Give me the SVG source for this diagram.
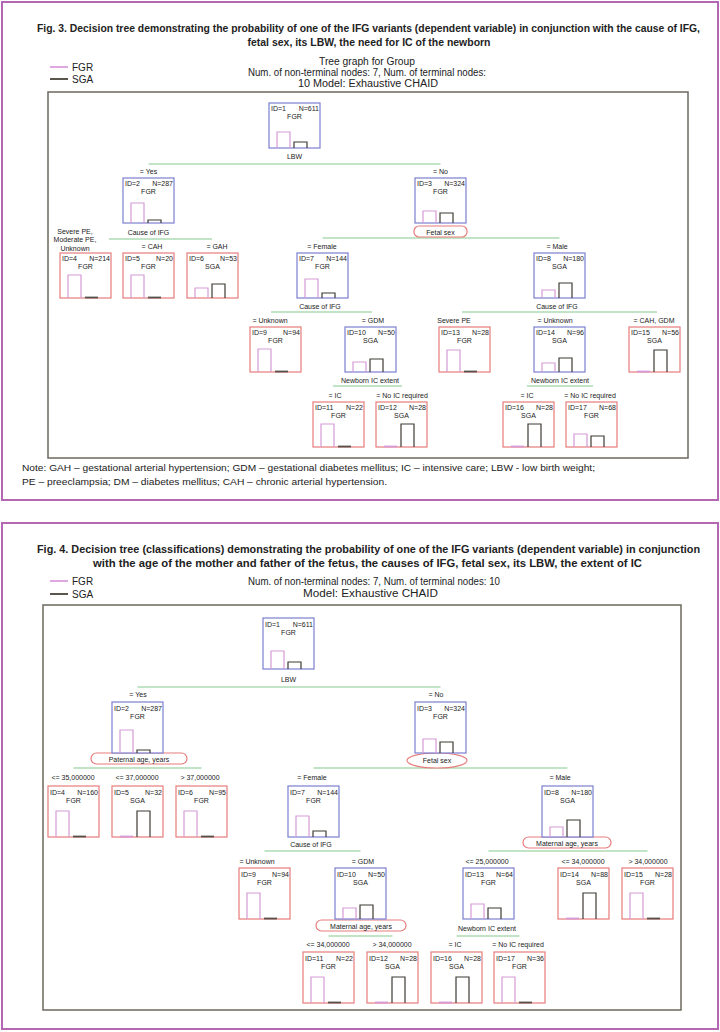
<svg xmlns="http://www.w3.org/2000/svg" width="720" height="1032" viewBox="0 0 720 1032">
<style>
text{font-family:"Liberation Sans",Arial,sans-serif;fill:#222}
.ttl{font-size:10.5px;font-weight:bold;text-anchor:middle}
.sub{font-size:10px;text-anchor:middle}
.leg{font-size:10px}
.note{font-size:9.5px}
.t{font-size:7px}
.e{text-anchor:end}
.m{text-anchor:middle}
.lb{font-size:7px;text-anchor:middle}
.outer{fill:none;stroke:#b468b4;stroke-width:2}
.inner{fill:none;stroke:#6c685e;stroke-width:1.5}
.nb{fill:#fff;stroke:#7b7fcf;stroke-width:1.2}
.nr{fill:#fff;stroke:#e77c7c;stroke-width:1.2}
.bp{fill:none;stroke:#d69ad8;stroke-width:1.2}
.bk{fill:none;stroke:#3f3b34;stroke-width:1.2}
.zp{stroke:#d69ad8;stroke-width:1.8}
.zk{stroke:#55514a;stroke-width:1.8}
.pill{fill:#fff;stroke:#e77c7c;stroke-width:1.2}
.conn line{stroke:#84ca90;stroke-width:1.2}
</style>

<!-- Figure 3 frame and header -->
<rect class="outer" x="2" y="2" width="716" height="498"/>
<text class="ttl" x="368.5" y="32" textLength="663" lengthAdjust="spacingAndGlyphs">Fig. 3. Decision tree demonstrating the probability of one of the IFG variants (dependent variable) in conjunction with the cause of IFG,</text>
<text class="ttl" x="369" y="46" textLength="243" lengthAdjust="spacingAndGlyphs">fetal sex, its LBW, the need for IC of the newborn</text>
<text class="sub" x="367" y="64.5" textLength="96" lengthAdjust="spacingAndGlyphs">Tree graph for Group</text>
<text class="sub" x="367" y="75.5" textLength="238" lengthAdjust="spacingAndGlyphs">Num. of non-terminal nodes: 7, Num. of terminal nodes:</text>
<text class="sub" x="368" y="86.5" textLength="140" lengthAdjust="spacingAndGlyphs">10 Model: Exhaustive CHAID</text>
<g id="legend3">
<line x1="50" y1="67" x2="68" y2="67" stroke="#e0a8e0" stroke-width="2"/>
<text class="leg" x="72" y="70.5">FGR</text>
<line x1="50" y1="79" x2="68" y2="79" stroke="#5a564e" stroke-width="2"/>
<text class="leg" x="72" y="82.5">SGA</text>
</g>
<rect class="inner" x="48" y="92" width="640" height="366"/>
<text class="note" x="22" y="471" textLength="573" lengthAdjust="spacingAndGlyphs">Note: GAH – gestational arterial hypertension; GDM – gestational diabetes mellitus; IC – intensive care; LBW - low birth weight;</text>
<text class="note" x="22" y="485" textLength="365" lengthAdjust="spacingAndGlyphs">PE – preeclampsia; DM – diabetes mellitus; CAH – chronic arterial hypertension.</text>

<!-- Figure 3 connectors -->
<g id="f3-connectors" class="conn">
<line x1="148.5" y1="164" x2="440.5" y2="164"/>
<line x1="109" y1="239" x2="212" y2="239"/>
<line x1="322.5" y1="238" x2="559.5" y2="238"/>
<line x1="271" y1="312" x2="372" y2="312"/>
<line x1="462" y1="312" x2="657" y2="312"/>
<line x1="333" y1="386" x2="402" y2="386"/>
<line x1="527" y1="386" x2="593" y2="386"/>
</g>

<!-- Figure 3 labels -->
<g id="f3-labels">
<text class="lb" x="294.5" y="158.5">LBW</text>
<text class="lb" x="148.5" y="174">= Yes</text>
<text class="lb" x="440.5" y="174">= No</text>
<text class="lb" x="148.5" y="234.5">Cause of IFG</text>
<rect class="pill" x="414" y="226" width="53" height="11" rx="5"/>
<text class="lb" x="440.5" y="234.5">Fetal sex</text>
<text class="lb" x="75" y="233.5">Severe PE,</text>
<text class="lb" x="75" y="242">Moderate PE,</text>
<text class="lb" x="75" y="250.5">Unknown</text>
<text class="lb" x="152" y="249">= CAH</text>
<text class="lb" x="217" y="249">= GAH</text>
<text class="lb" x="322" y="249">= Female</text>
<text class="lb" x="557" y="249">= Male</text>
<text class="lb" x="320" y="308.5">Cause of IFG</text>
<text class="lb" x="557" y="308.5">Cause of IFG</text>
<text class="lb" x="270" y="323">= Unknown</text>
<text class="lb" x="373" y="323">= GDM</text>
<text class="lb" x="454" y="323">Severe PE</text>
<text class="lb" x="555" y="323">= Unknown</text>
<text class="lb" x="654" y="323">= CAH, GDM</text>
<text class="lb" x="370" y="383">Newborn IC extent</text>
<text class="lb" x="560" y="383">Newborn IC extent</text>
<text class="lb" x="335" y="398">= IC</text>
<text class="lb" x="402" y="398">= No IC required</text>
<text class="lb" x="527" y="398">= IC</text>
<text class="lb" x="590" y="398">= No IC required</text>
</g>

<!-- Figure 3 nodes -->
<g id="f3-n1"><rect class="nb" x="269" y="103" width="51" height="45"/><text class="t" x="271" y="111">ID=1</text><text class="t e" x="319" y="111">N=611</text><text class="t m" x="294.5" y="119">FGR</text><path class="bp" d="M277,148V132H290V148"/><path class="bk" d="M294,148V142H307V148"/></g>
<g id="f3-n2"><rect class="nb" x="123" y="178" width="51" height="45"/><text class="t" x="125" y="186">ID=2</text><text class="t e" x="173" y="186">N=287</text><text class="t m" x="148.5" y="194">FGR</text><path class="bp" d="M131,223V203H144V223"/><path class="bk" d="M148,223V220H161V223"/></g>
<g id="f3-n3"><rect class="nb" x="415" y="178" width="51" height="45"/><text class="t" x="417" y="186">ID=3</text><text class="t e" x="465" y="186">N=324</text><text class="t m" x="440.5" y="194">FGR</text><path class="bp" d="M423,223V211H436V223"/><path class="bk" d="M440,223V213H453V223"/></g>
<g id="f3-n4"><rect class="nr" x="60" y="253" width="51" height="45"/><text class="t" x="62" y="261">ID=4</text><text class="t e" x="110" y="261">N=214</text><text class="t m" x="85.5" y="269">FGR</text><path class="bp" d="M68,298V275H81V298"/><line class="zk" x1="85" y1="297.5" x2="98" y2="297.5"/></g>
<g id="f3-n5"><rect class="nr" x="123" y="253" width="51" height="45"/><text class="t" x="125" y="261">ID=5</text><text class="t e" x="173" y="261">N=20</text><text class="t m" x="148.5" y="269">FGR</text><path class="bp" d="M131,298V275H144V298"/><line class="zk" x1="148" y1="297.5" x2="161" y2="297.5"/></g>
<g id="f3-n6"><rect class="nr" x="187" y="253" width="51" height="45"/><text class="t" x="189" y="261">ID=6</text><text class="t e" x="237" y="261">N=53</text><text class="t m" x="212.5" y="269">SGA</text><path class="bp" d="M195,298V288H208V298"/><path class="bk" d="M212,298V284H225V298"/></g>
<g id="f3-n7"><rect class="nb" x="297" y="253" width="51" height="45"/><text class="t" x="299" y="261">ID=7</text><text class="t e" x="347" y="261">N=144</text><text class="t m" x="322.5" y="269">FGR</text><path class="bp" d="M305,298V279H318V298"/><path class="bk" d="M322,298V293H335V298"/></g>
<g id="f3-n8"><rect class="nb" x="534" y="253" width="51" height="45"/><text class="t" x="536" y="261">ID=8</text><text class="t e" x="584" y="261">N=180</text><text class="t m" x="559.5" y="269">SGA</text><path class="bp" d="M542,298V290H555V298"/><path class="bk" d="M559,298V283H572V298"/></g>
<g id="f3-n9"><rect class="nr" x="250" y="327" width="51" height="45"/><text class="t" x="252" y="335">ID=9</text><text class="t e" x="300" y="335">N=94</text><text class="t m" x="275.5" y="343">FGR</text><path class="bp" d="M258,372V349H271V372"/><line class="zk" x1="275" y1="371.5" x2="288" y2="371.5"/></g>
<g id="f3-n10"><rect class="nb" x="345" y="327" width="51" height="45"/><text class="t" x="347" y="335">ID=10</text><text class="t e" x="395" y="335">N=50</text><text class="t m" x="370.5" y="343">SGA</text><path class="bp" d="M353,372V362H366V372"/><path class="bk" d="M370,372V359H383V372"/></g>
<g id="f3-n13"><rect class="nr" x="439" y="327" width="51" height="45"/><text class="t" x="441" y="335">ID=13</text><text class="t e" x="489" y="335">N=28</text><text class="t m" x="464.5" y="343">FGR</text><path class="bp" d="M447,372V350H460V372"/><line class="zk" x1="464" y1="371.5" x2="477" y2="371.5"/></g>
<g id="f3-n14"><rect class="nb" x="534" y="327" width="51" height="45"/><text class="t" x="536" y="335">ID=14</text><text class="t e" x="584" y="335">N=96</text><text class="t m" x="559.5" y="343">SGA</text><path class="bp" d="M542,372V363H555V372"/><path class="bk" d="M559,372V358H572V372"/></g>
<g id="f3-n15"><rect class="nr" x="629" y="327" width="51" height="45"/><text class="t" x="631" y="335">ID=15</text><text class="t e" x="679" y="335">N=56</text><text class="t m" x="654.5" y="343">SGA</text><line class="zp" x1="637" y1="371.5" x2="650" y2="371.5"/><path class="bk" d="M654,372V350H667V372"/></g>
<g id="f3-n11"><rect class="nr" x="313" y="402" width="51" height="45"/><text class="t" x="315" y="410">ID=11</text><text class="t e" x="363" y="410">N=22</text><text class="t m" x="338.5" y="418">FGR</text><path class="bp" d="M321,447V424H334V447"/><line class="zk" x1="338" y1="446.5" x2="351" y2="446.5"/></g>
<g id="f3-n12"><rect class="nr" x="376" y="402" width="51" height="45"/><text class="t" x="378" y="410">ID=12</text><text class="t e" x="426" y="410">N=28</text><text class="t m" x="401.5" y="418">SGA</text><line class="zp" x1="384" y1="446.5" x2="397" y2="446.5"/><path class="bk" d="M401,447V424H414V447"/></g>
<g id="f3-n16"><rect class="nr" x="503" y="402" width="51" height="45"/><text class="t" x="505" y="410">ID=16</text><text class="t e" x="553" y="410">N=28</text><text class="t m" x="528.5" y="418">SGA</text><line class="zp" x1="511" y1="446.5" x2="524" y2="446.5"/><path class="bk" d="M528,447V424H541V447"/></g>
<g id="f3-n17"><rect class="nr" x="566" y="402" width="51" height="45"/><text class="t" x="568" y="410">ID=17</text><text class="t e" x="616" y="410">N=68</text><text class="t m" x="591.5" y="418">FGR</text><path class="bp" d="M574,447V434H587V447"/><path class="bk" d="M591,447V436H604V447"/></g>

<!-- Figure 4 frame and header -->
<rect class="outer" x="2" y="523" width="716" height="506"/>
<text class="ttl" x="368.5" y="553" textLength="663" lengthAdjust="spacingAndGlyphs">Fig. 4. Decision tree (classifications) demonstrating the probability of one of the IFG variants (dependent variable) in conjunction</text>
<text class="ttl" x="367.5" y="567" textLength="549" lengthAdjust="spacingAndGlyphs">with the age of the mother and father of the fetus, the causes of IFG, fetal sex, its LBW, the extent of IC</text>
<text class="sub" x="374" y="584.5" textLength="252" lengthAdjust="spacingAndGlyphs">Num. of non-terminal nodes: 7, Num. of terminal nodes: 10</text>
<text class="sub" x="370.5" y="596.5" textLength="135" lengthAdjust="spacingAndGlyphs">Model: Exhaustive CHAID</text>
<g id="legend4">
<line x1="50" y1="581" x2="68" y2="581" stroke="#e0a8e0" stroke-width="2"/>
<text class="leg" x="72" y="584.5">FGR</text>
<line x1="50" y1="594" x2="68" y2="594" stroke="#5a564e" stroke-width="2"/>
<text class="leg" x="72" y="597.5">SGA</text>
</g>
<rect class="inner" x="43" y="605" width="638" height="405"/>

<!-- Figure 4 connectors -->
<g id="f4-connectors" class="conn">
<line x1="137.5" y1="687" x2="440.5" y2="687"/>
<line x1="73.5" y1="768" x2="201.5" y2="768"/>
<line x1="313.5" y1="768" x2="567.5" y2="768"/>
<line x1="264.5" y1="851" x2="360.5" y2="851"/>
<line x1="488.5" y1="851" x2="647.5" y2="851"/>
<line x1="328.5" y1="936" x2="392.5" y2="936"/>
<line x1="456.5" y1="936" x2="519.5" y2="936"/>
</g>

<!-- Figure 4 labels -->
<g id="f4-labels">
<text class="lb" x="288.5" y="682">LBW</text>
<text class="lb" x="138" y="697">= Yes</text>
<text class="lb" x="436" y="697">= No</text>
<rect class="pill" x="91" y="753" width="96" height="11" rx="5.5"/>
<text class="lb" x="139" y="761.5">Paternal age, years</text>
<ellipse class="pill" cx="437" cy="760.5" rx="30" ry="7.5"/>
<text class="lb" x="437" y="763">Fetal sex</text>
<text class="lb" x="73" y="780">&lt;= 35,000000</text>
<text class="lb" x="137" y="780">&lt;= 37,000000</text>
<text class="lb" x="200" y="780">&gt; 37,000000</text>
<text class="lb" x="312" y="780">= Female</text>
<text class="lb" x="560" y="780">= Male</text>
<text class="lb" x="311" y="847">Cause of IFG</text>
<rect class="pill" x="523" y="837" width="88" height="11" rx="5.5"/>
<text class="lb" x="567" y="845.5">Maternal age, years</text>
<text class="lb" x="257" y="864">= Unknown</text>
<text class="lb" x="363" y="864">= GDM</text>
<text class="lb" x="487" y="864">&lt;= 25,000000</text>
<text class="lb" x="583" y="864">&lt;= 34,000000</text>
<text class="lb" x="648" y="864">&gt; 34,000000</text>
<rect class="pill" x="316" y="920" width="90" height="11" rx="5.5"/>
<text class="lb" x="361" y="928.5">Maternal age, years</text>
<text class="lb" x="487" y="931">Newborn IC extent</text>
<text class="lb" x="328" y="947">&lt;= 34,000000</text>
<text class="lb" x="392" y="947">&gt; 34,000000</text>
<text class="lb" x="455" y="947">= IC</text>
<text class="lb" x="518" y="947">= No IC required</text>
</g>

<!-- Figure 4 nodes -->
<g id="f4-n1"><rect class="nb" x="263" y="618" width="51" height="51"/><text class="t" x="265" y="627">ID=1</text><text class="t e" x="313" y="627">N=611</text><text class="t m" x="288.5" y="635">FGR</text><path class="bp" d="M271,669V651H284V669"/><path class="bk" d="M288,669V662H301V669"/></g>
<g id="f4-n2"><rect class="nb" x="112" y="702" width="51" height="51"/><text class="t" x="114" y="711">ID=2</text><text class="t e" x="162" y="711">N=287</text><text class="t m" x="137.5" y="719">FGR</text><path class="bp" d="M120,753V730H133V753"/><path class="bk" d="M137,753V750H150V753"/></g>
<g id="f4-n3"><rect class="nb" x="415" y="702" width="51" height="51"/><text class="t" x="417" y="711">ID=3</text><text class="t e" x="465" y="711">N=324</text><text class="t m" x="440.5" y="719">FGR</text><path class="bp" d="M423,753V739H436V753"/><path class="bk" d="M440,753V742H453V753"/></g>
<g id="f4-n4"><rect class="nr" x="48" y="786" width="51" height="51"/><text class="t" x="50" y="795">ID=4</text><text class="t e" x="98" y="795">N=160</text><text class="t m" x="73.5" y="803">FGR</text><path class="bp" d="M56,837V811H69V837"/><line class="zk" x1="73" y1="836.5" x2="86" y2="836.5"/></g>
<g id="f4-n5"><rect class="nr" x="112" y="786" width="51" height="51"/><text class="t" x="114" y="795">ID=5</text><text class="t e" x="162" y="795">N=32</text><text class="t m" x="137.5" y="803">SGA</text><line class="zp" x1="120" y1="836.5" x2="133" y2="836.5"/><path class="bk" d="M137,837V811H150V837"/></g>
<g id="f4-n6"><rect class="nr" x="176" y="786" width="51" height="51"/><text class="t" x="178" y="795">ID=6</text><text class="t e" x="226" y="795">N=95</text><text class="t m" x="201.5" y="803">FGR</text><path class="bp" d="M184,837V811H197V837"/><line class="zk" x1="201" y1="836.5" x2="214" y2="836.5"/></g>
<g id="f4-n7"><rect class="nb" x="288" y="786" width="51" height="51"/><text class="t" x="290" y="795">ID=7</text><text class="t e" x="338" y="795">N=144</text><text class="t m" x="313.5" y="803">FGR</text><path class="bp" d="M296,837V816H309V837"/><path class="bk" d="M313,837V831H326V837"/></g>
<g id="f4-n8"><rect class="nb" x="542" y="786" width="51" height="51"/><text class="t" x="544" y="795">ID=8</text><text class="t e" x="592" y="795">N=180</text><text class="t m" x="567.5" y="803">SGA</text><path class="bp" d="M550,837V827H563V837"/><path class="bk" d="M567,837V820H580V837"/></g>
<g id="f4-n9"><rect class="nr" x="239" y="868" width="51" height="51"/><text class="t" x="241" y="877">ID=9</text><text class="t e" x="289" y="877">N=94</text><text class="t m" x="264.5" y="885">FGR</text><path class="bp" d="M247,919V893H260V919"/><line class="zk" x1="264" y1="918.5" x2="277" y2="918.5"/></g>
<g id="f4-n10"><rect class="nb" x="335" y="868" width="51" height="51"/><text class="t" x="337" y="877">ID=10</text><text class="t e" x="385" y="877">N=50</text><text class="t m" x="360.5" y="885">SGA</text><path class="bp" d="M343,919V908H356V919"/><path class="bk" d="M360,919V905H373V919"/></g>
<g id="f4-n13"><rect class="nb" x="463" y="868" width="51" height="51"/><text class="t" x="465" y="877">ID=13</text><text class="t e" x="513" y="877">N=64</text><text class="t m" x="488.5" y="885">FGR</text><path class="bp" d="M471,919V904H484V919"/><path class="bk" d="M488,919V908H501V919"/></g>
<g id="f4-n14"><rect class="nr" x="558" y="868" width="51" height="51"/><text class="t" x="560" y="877">ID=14</text><text class="t e" x="608" y="877">N=88</text><text class="t m" x="583.5" y="885">SGA</text><line class="zp" x1="566" y1="918.5" x2="579" y2="918.5"/><path class="bk" d="M583,919V893H596V919"/></g>
<g id="f4-n15"><rect class="nr" x="622" y="868" width="51" height="51"/><text class="t" x="624" y="877">ID=15</text><text class="t e" x="672" y="877">N=28</text><text class="t m" x="647.5" y="885">FGR</text><path class="bp" d="M630,919V893H643V919"/><line class="zk" x1="647" y1="918.5" x2="660" y2="918.5"/></g>
<g id="f4-n11"><rect class="nr" x="303" y="952" width="51" height="51"/><text class="t" x="305" y="961">ID=11</text><text class="t e" x="353" y="961">N=22</text><text class="t m" x="328.5" y="969">FGR</text><path class="bp" d="M311,1003V977H324V1003"/><line class="zk" x1="328" y1="1002.5" x2="341" y2="1002.5"/></g>
<g id="f4-n12"><rect class="nr" x="367" y="952" width="51" height="51"/><text class="t" x="369" y="961">ID=12</text><text class="t e" x="417" y="961">N=28</text><text class="t m" x="392.5" y="969">SGA</text><line class="zp" x1="375" y1="1002.5" x2="388" y2="1002.5"/><path class="bk" d="M392,1003V977H405V1003"/></g>
<g id="f4-n16"><rect class="nr" x="431" y="952" width="51" height="51"/><text class="t" x="433" y="961">ID=16</text><text class="t e" x="481" y="961">N=28</text><text class="t m" x="456.5" y="969">SGA</text><line class="zp" x1="439" y1="1002.5" x2="452" y2="1002.5"/><path class="bk" d="M456,1003V977H469V1003"/></g>
<g id="f4-n17"><rect class="nr" x="494" y="952" width="51" height="51"/><text class="t" x="496" y="961">ID=17</text><text class="t e" x="544" y="961">N=36</text><text class="t m" x="519.5" y="969">FGR</text><path class="bp" d="M502,1003V977H515V1003"/><line class="zk" x1="519" y1="1002.5" x2="532" y2="1002.5"/></g>
</svg>
